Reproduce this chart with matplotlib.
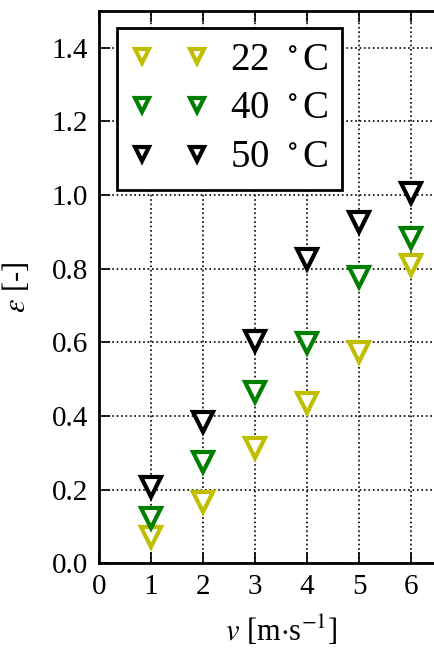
import matplotlib
matplotlib.use('Agg')
import matplotlib.pyplot as plt

# data
v = [1, 2, 3, 4, 5, 6]
eps_22 = [0.071, 0.166, 0.312, 0.435, 0.573, 0.81]
eps_40 = [0.122, 0.275, 0.465, 0.597, 0.777, 0.883]
eps_50 = [0.207, 0.383, 0.603, 0.826, 0.927, 1.005]
labels = [r'22 $\,^\circ$C', r'40 $\,^\circ$C', r'50 $\,^\circ$C']
colors = [(0.75, 0.75, 0.0), (0.0, 0.5, 0.0), 'k']

plt.rcParams['font.family'] = ['Liberation Serif', 'DejaVu Serif']
plt.rcParams['mathtext.fontset'] = 'stix'

fig = plt.figure(figsize=(4.35, 6.51), dpi=100)
# axes run off the right edge like in the reference crop
ax = fig.add_axes([0.2276, 0.135, 0.837, 0.848])

for eps, lab, col in zip([eps_22, eps_40, eps_50], labels, colors):
    ax.plot(v, eps, linestyle='none', marker='v', ms=14, mew=3,
            mfc='white', mec=col, label=lab)

ax.set_xlim(0, 7)
ax.set_ylim(0, 1.5)
ax.set_xticks([0, 1, 2, 3, 4, 5, 6])
ax.set_yticks([0.0, 0.2, 0.4, 0.6, 0.8, 1.0, 1.2, 1.4])
ax.set_yticklabels(['0.0', '0.2', '0.4', '0.6', '0.8', '1.0', '1.2', '1.4'])
ax.grid(True, linestyle=':', color='k', lw=1.2)
ax.tick_params(direction='in', length=8, width=1.2, top=True, right=True,
               labelsize=21, pad=8)
for s in ax.spines.values():
    s.set_linewidth(2)

ax.set_xlabel(r'$v$ [m$\cdot$s$^{-1}$]', fontsize=22, labelpad=10)
ax.set_ylabel(r'$\epsilon$ [-]', fontsize=22, labelpad=14)

leg = ax.legend(loc='upper left', bbox_to_anchor=(0.049, 0.969),
                borderaxespad=0, numpoints=2, markerscale=0.74,
                fontsize=28, fancybox=False, framealpha=1,
                handlelength=2.0, handletextpad=0.55, labelspacing=0.3,
                borderpad=0.35)
leg.get_frame().set_edgecolor('k')
leg.get_frame().set_linewidth(2)

fig.savefig('out.png', dpi=100)
